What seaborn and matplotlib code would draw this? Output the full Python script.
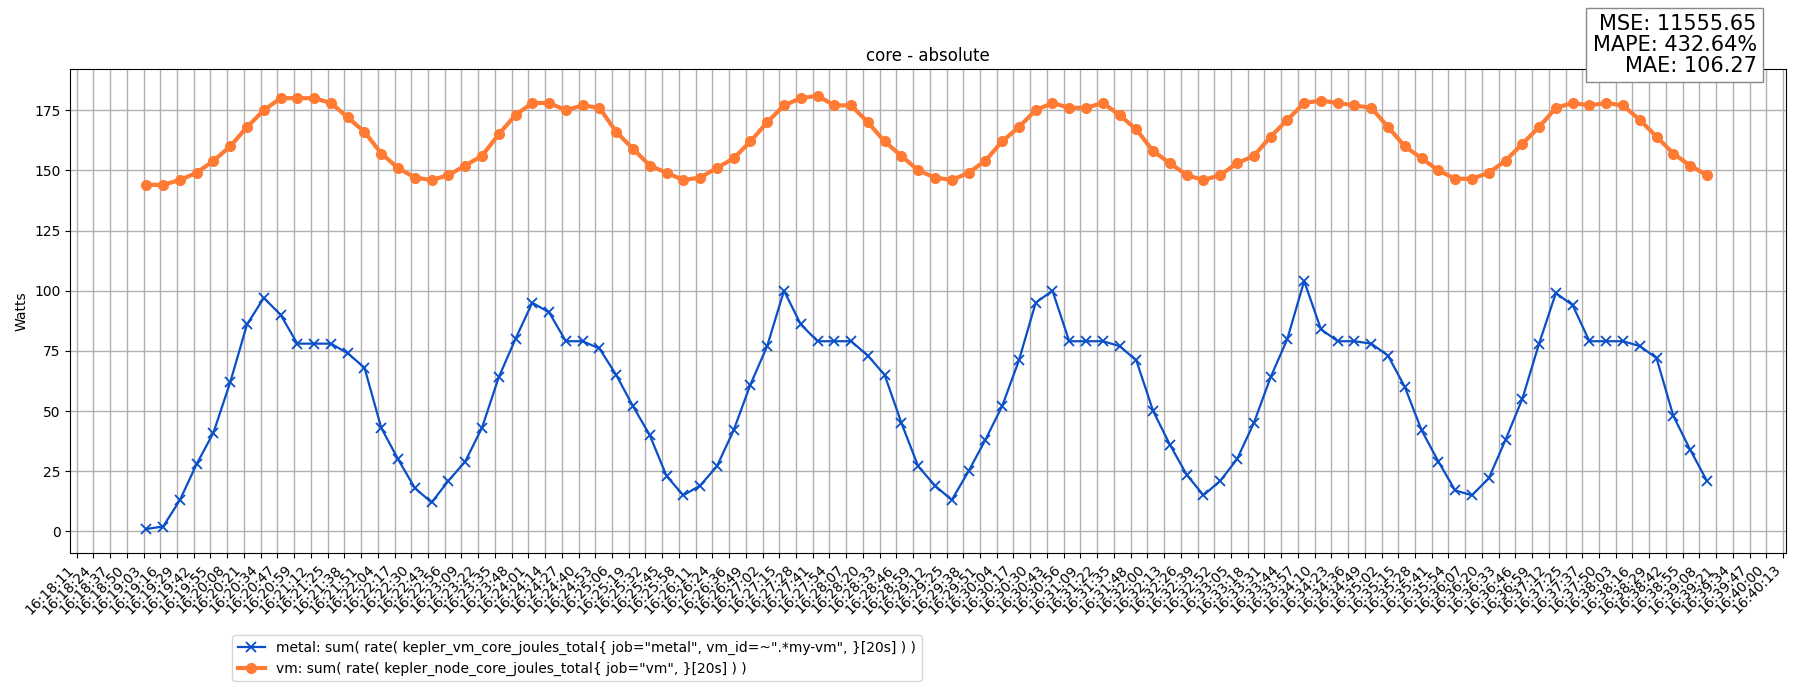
import seaborn as sns
import matplotlib.pyplot as plt
import pandas as pd
import numpy as np

# samples every 13 s
start_time = "2024-01-01 16:19:05"
step_seconds = 13
metal_watts = [1, 2, 13, 28, 41, 62, 86, 97, 90, 78, 78, 78, 74, 68, 43, 30, 18, 12, 21, 29,
               43, 64, 80, 95, 91, 79, 79, 76, 65, 52, 40, 23, 15, 19, 27, 42, 61, 77, 100, 86,
               79, 79, 79, 73, 65, 45, 27, 19, 13, 25, 38, 52, 71, 95, 100, 79, 79, 79, 77, 71,
               50, 36, 23.5, 15, 21, 30, 45, 64, 80, 104, 84, 79, 79, 78, 73, 60, 42, 29, 17, 15,
               22, 38, 55, 78, 99, 94, 79, 79, 79, 77, 72, 48, 34, 21]
vm_watts = [144, 144, 146, 149, 154, 160, 168, 175, 180, 180, 180, 178, 172, 166, 157, 151, 147, 146, 148, 152,
            156, 165, 173, 178, 178, 175, 177, 176, 166, 159, 152, 149, 146, 147, 151, 155, 162, 170, 177, 180,
            181, 177, 177, 170, 162, 156, 150, 147, 146, 149, 154, 162, 168, 175, 178, 176, 176, 178, 173, 167,
            158, 153, 148, 146, 148, 153, 156, 164, 171, 178, 179, 178, 177, 176, 168, 160, 155, 150, 146.5, 146.5,
            149, 154, 161, 168, 176, 178, 177, 178, 177, 171, 164, 157, 152, 148]
metal_label = 'metal: sum( rate( kepler_vm_core_joules_total{ job="metal", vm_id=~".*my-vm", }[20s] ) )'
vm_label = 'vm: sum( rate( kepler_node_core_joules_total{ job="vm", }[20s] ) )'
tick_start = "2024-01-01 16:18:11"
tick_end = "2024-01-01 16:40:13"
n_ticks = 103
stats_text = "MSE: 11555.65\nMAPE: 432.64%\nMAE: 106.27"

times = pd.date_range(start_time, periods=len(metal_watts), freq=f"{step_seconds}s")
df = pd.DataFrame({"time": times, "metal": metal_watts, "vm": vm_watts})

blue = "#0a4fc8"
orange = "#ff7a33"

fig = plt.figure(figsize=(18, 7), dpi=100)
ax = fig.add_axes([0.039, 0.21, 0.953, 0.691])

sns.lineplot(data=df, x="time", y="metal", ax=ax, color=blue, marker="x",
             markersize=7, markeredgewidth=1.3, markeredgecolor=blue, markerfacecolor=blue,
             linewidth=1.6, dashes=False, label=metal_label)
sns.lineplot(data=df, x="time", y="vm", ax=ax, color=orange, marker="o",
             markersize=8, markeredgewidth=0, markerfacecolor=orange,
             linewidth=3, dashes=False, label=vm_label)

t0 = pd.Timestamp(tick_start)
t1 = pd.Timestamp(tick_end)
ticks = pd.to_datetime(np.linspace(t0.value, t1.value, n_ticks))
ax.set_xticks(ticks)
ax.set_xticklabels([t.round("s").strftime("%H:%M:%S") for t in ticks], rotation=45, ha="right")
ax.set_xlim(t0 - pd.Timedelta(seconds=5), t1 + pd.Timedelta(seconds=2))
ax.set_ylim(-9, 192)
ax.set_yticks(range(0, 176, 25))
ax.grid(True, color="#b0b0b0", linewidth=1)
ax.set_axisbelow(True)
ax.set_xlabel("")
ax.set_ylabel("Watts")
ax.set_title("core - absolute")

handles, labels = ax.get_legend_handles_labels()
ax.get_legend().remove()
fig.legend(handles, labels, loc="upper left", bbox_to_anchor=(0.125, 0.103), fontsize=10)

fig.text(0.976, 0.98, stats_text, ha="right", va="top", fontsize=15, linespacing=1.05,
         bbox=dict(boxstyle="square,pad=0.3", facecolor="white", edgecolor="#888888"))

fig.savefig("out.png", dpi=100)
